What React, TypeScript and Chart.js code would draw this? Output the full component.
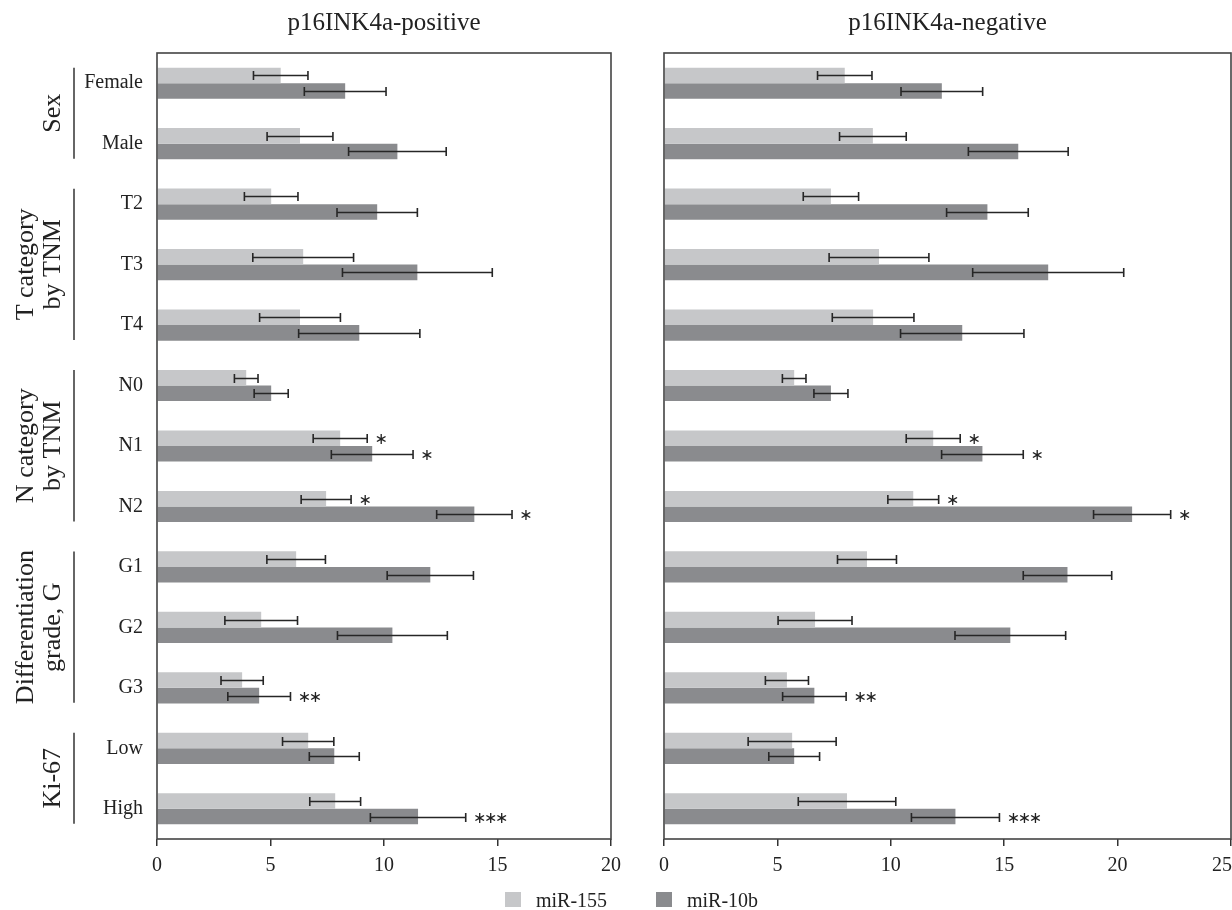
import React, { useEffect, useRef } from 'react';
import { Chart, registerables } from 'chart.js';

Chart.register(...registerables);

// ---------- data ----------
const categories = ['Female', 'Male', 'T2', 'T3', 'T4', 'N0', 'N1', 'N2', 'G1', 'G2', 'G3', 'Low', 'High'];
const seriesNames = ['miR-155', 'miR-10b'];
const panelTitles = ['p16INK4a-positive', 'p16INK4a-negative'];

const groupLabels = [['Sex'], ['T category', 'by TNM'], ['N category', 'by TNM'], ['Differentiation', 'grade, G'], ['Ki-67']];
const groupFirstRow = [0, 2, 5, 8, 11];
const groupLastRow = [1, 4, 7, 10, 12];

// p16INK4a-positive
const pos155 = [5.45, 6.3, 5.03, 6.44, 6.3, 3.93, 8.07, 7.45, 6.13, 4.59, 3.75, 6.66, 7.85];
const pos155Err = [1.2, 1.45, 1.18, 2.22, 1.78, 0.52, 1.19, 1.1, 1.29, 1.6, 0.93, 1.13, 1.12];
const pos10b = [8.29, 10.59, 9.7, 11.47, 8.91, 5.03, 9.48, 13.98, 12.04, 10.37, 4.5, 7.81, 11.5];
const pos10bErr = [1.8, 2.15, 1.77, 3.3, 2.67, 0.75, 1.8, 1.66, 1.9, 2.42, 1.38, 1.1, 2.1];
const pos155Stars = ['', '', '', '', '', '', '∗', '∗', '', '', '', '', ''];
const pos10bStars = ['', '', '', '', '', '', '∗', '∗', '', '', '∗∗', '', '∗∗∗'];

// p16INK4a-negative
const neg155 = [7.97, 9.21, 7.36, 9.48, 9.22, 5.74, 11.87, 10.99, 8.95, 6.66, 5.42, 5.65, 8.07];
const neg155Err = [1.2, 1.47, 1.22, 2.2, 1.8, 0.52, 1.19, 1.12, 1.3, 1.63, 0.95, 1.94, 2.15];
const neg10b = [12.25, 15.62, 14.26, 16.94, 13.15, 7.36, 14.04, 20.64, 17.79, 15.27, 6.63, 5.74, 12.85];
const neg10bErr = [1.8, 2.2, 1.8, 3.33, 2.72, 0.75, 1.8, 1.7, 1.95, 2.44, 1.4, 1.12, 1.94];
const neg155Stars = ['', '', '', '', '', '', '∗', '∗', '', '', '', '', ''];
const neg10bStars = ['', '', '', '', '', '', '∗', '∗', '', '', '∗∗', '', '∗∗∗'];

const posMax = 20;
const negMax = 25;
const tickStep = 5;

// ---------- styles ----------
const LIGHT = '#c6c7c9';
const DARK = '#8a8b8e';
const INK = '#222222';
const SERIF = "'Liberation Serif', 'Times New Roman', serif";

Chart.defaults.font.family = SERIF;

type PanelOpts = {
  title: string;
  a: number[]; aErr: number[]; aStars: string[];
  b: number[]; bErr: number[]; bStars: string[];
  max: number;
  showLabels: boolean;
  leftWidth: number;
  rightPad: number;
  groups: boolean;
  lastLabelInside: boolean;
};

function makePanel(canvas: HTMLCanvasElement, o: PanelOpts) {
  const decor = {
    id: 'decor',
    afterDatasetsDraw(chart: any) {
      const ctx = chart.ctx;
      const ca = chart.chartArea;
      const xs = chart.scales.x;
      ctx.save();
      // frame
      ctx.strokeStyle = '#444';
      ctx.lineWidth = 1.6;
      ctx.strokeRect(ca.left, ca.top, ca.right - ca.left, ca.bottom - ca.top);
      // error bars + stars
      const sets = [
        { mean: o.a, err: o.aErr, stars: o.aStars },
        { mean: o.b, err: o.bErr, stars: o.bStars },
      ];
      sets.forEach((s, d) => {
        const meta = chart.getDatasetMeta(d);
        meta.data.forEach((bar: any, j: number) => {
          const y = Math.round(bar.y) + 0.5;
          const x1 = xs.getPixelForValue(s.mean[j] - s.err[j]);
          const x2 = xs.getPixelForValue(s.mean[j] + s.err[j]);
          ctx.strokeStyle = '#262626';
          ctx.lineWidth = 1.6;
          ctx.beginPath();
          ctx.moveTo(x1, y); ctx.lineTo(x2, y);
          ctx.moveTo(x1, y - 4.5); ctx.lineTo(x1, y + 4.5);
          ctx.moveTo(x2, y - 4.5); ctx.lineTo(x2, y + 4.5);
          ctx.stroke();
          if (s.stars[j]) {
            ctx.fillStyle = '#222';
            ctx.font = "16px 'DejaVu Sans', sans-serif";
            ctx.textAlign = 'center';
            ctx.textBaseline = 'middle';
            const chars = Array.from(s.stars[j]);
            chars.forEach((c, k) => {
              ctx.fillText(c, x2 + 14 + k * 11, y + 1);
            });
          }
        });
      });
      // last tick label kept inside the picture
      if (o.lastLabelInside) {
        ctx.fillStyle = INK;
        ctx.font = `20px ${SERIF}`;
        ctx.textAlign = 'right';
        ctx.textBaseline = 'middle';
        ctx.fillText(String(o.max), ca.right + 1, ca.bottom + 7 + 8 + 12);
      }
      // title
      ctx.fillStyle = INK;
      ctx.font = `25px ${SERIF}`;
      ctx.textAlign = 'center';
      ctx.textBaseline = 'alphabetic';
      ctx.fillText(o.title, (ca.left + ca.right) / 2, 30);
      // group labels
      if (o.groups) {
        const ys = chart.scales.y;
        groupLabels.forEach((lines, g) => {
          const yTop = ys.getPixelForValue(groupFirstRow[g]) - 15.5;
          const yBot = ys.getPixelForValue(groupLastRow[g]) + 15;
          ctx.strokeStyle = '#333';
          ctx.lineWidth = 1.5;
          ctx.beginPath();
          ctx.moveTo(74, yTop); ctx.lineTo(74, yBot);
          ctx.stroke();
          ctx.save();
          ctx.translate(0, (yTop + yBot) / 2);
          ctx.rotate(-Math.PI / 2);
          ctx.fillStyle = INK;
          ctx.font = `26px ${SERIF}`;
          ctx.textAlign = 'center';
          ctx.textBaseline = 'alphabetic';
          const n = lines.length;
          lines.forEach((ln, k) => {
            ctx.fillText(ln, 0, 60 - (n - 1 - k) * 27);
          });
          ctx.restore();
        });
      }
      ctx.restore();
    },
  };

  return new Chart(canvas, {
    type: 'bar',
    data: {
      labels: categories,
      datasets: [
        { label: seriesNames[0], data: o.a, backgroundColor: LIGHT, borderWidth: 0, categoryPercentage: 0.515, barPercentage: 1 },
        { label: seriesNames[1], data: o.b, backgroundColor: DARK, borderWidth: 0, categoryPercentage: 0.515, barPercentage: 1 },
      ],
    },
    options: {
      indexAxis: 'y',
      responsive: false,
      animation: false,
      devicePixelRatio: 1,
      layout: { padding: { top: 53, left: 0, right: o.rightPad, bottom: 0 } },
      plugins: { legend: { display: false }, tooltip: { enabled: false } },
      scales: {
        x: {
          type: 'linear',
          min: 0,
          max: o.max,
          ticks: {
            stepSize: tickStep,
            color: INK,
            font: { size: 20, family: SERIF },
            padding: 8,
            callback: (v: any) => (o.lastLabelInside && v === o.max ? '' : String(v)),
          },
          grid: { display: true, drawOnChartArea: false, drawTicks: true, tickLength: 7, color: '#333', lineWidth: 1.5 },
          border: { display: false },
          afterFit: (s: any) => { s.height = 71; },
        },
        y: {
          type: 'category',
          ticks: { display: o.showLabels, color: INK, font: { size: 20, family: SERIF }, padding: 14 },
          grid: { display: false, drawTicks: false },
          border: { display: false },
          afterFit: (s: any) => { s.width = o.leftWidth; },
        },
      },
    } as any,
    plugins: [decor],
  });
}

export default function App() {
  const leftRef = useRef<HTMLCanvasElement>(null);
  const rightRef = useRef<HTMLCanvasElement>(null);

  useEffect(() => {
    const c1 = makePanel(leftRef.current!, {
      title: panelTitles[0],
      a: pos155, aErr: pos155Err, aStars: pos155Stars,
      b: pos10b, bErr: pos10bErr, bStars: pos10bStars,
      max: posMax, showLabels: true, leftWidth: 157, rightPad: 19, groups: true, lastLabelInside: false,
    });
    const c2 = makePanel(rightRef.current!, {
      title: panelTitles[1],
      a: neg155, aErr: neg155Err, aStars: neg155Stars,
      b: neg10b, bErr: neg10bErr, bStars: neg10bStars,
      max: negMax, showLabels: false, leftWidth: 24, rightPad: 29, groups: false, lastLabelInside: true,
    });
    return () => { c1.destroy(); c2.destroy(); };
  }, []);

  const legendText: React.CSSProperties = {
    position: 'absolute', top: 888, fontFamily: SERIF, fontSize: 20, lineHeight: '24px', color: INK, whiteSpace: 'nowrap',
  };

  return (
    <div style={{ position: 'absolute', left: 0, top: 0, width: 1232, height: 910, overflow: 'hidden', background: '#fff' }}>
      <canvas ref={leftRef} width={630} height={910} style={{ position: 'absolute', left: 0, top: 0 }} />
      <canvas ref={rightRef} width={620} height={910} style={{ position: 'absolute', left: 640, top: 0 }} />
      <div style={{ position: 'absolute', left: 505, top: 892, width: 16, height: 15, background: LIGHT }} />
      <div style={{ ...legendText, left: 536 }}>{seriesNames[0]}</div>
      <div style={{ position: 'absolute', left: 656, top: 892, width: 16, height: 15, background: DARK }} />
      <div style={{ ...legendText, left: 687 }}>{seriesNames[1]}</div>
    </div>
  );
}
